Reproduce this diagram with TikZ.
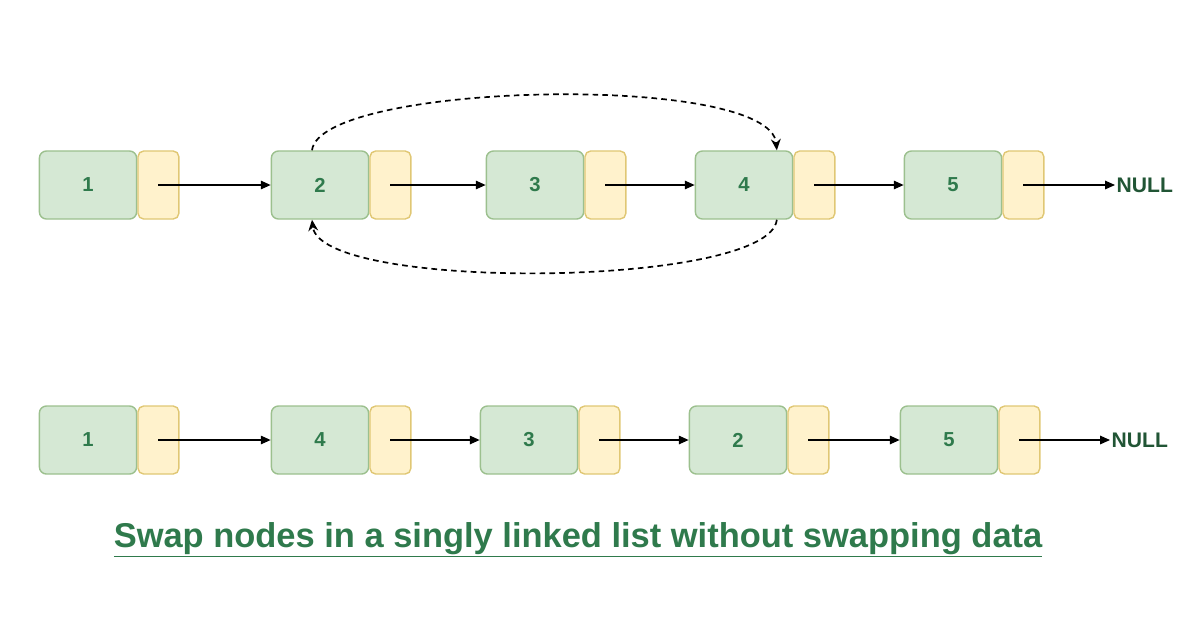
\documentclass[tikz,border=0pt]{standalone}
\usepackage{fontspec}
\setmainfont{Liberation Sans}
\usetikzlibrary{positioning,arrows.meta}
\definecolor{datafill}{HTML}{D5E8D4}
\definecolor{databorder}{HTML}{9CC08E}
\definecolor{ptrfill}{HTML}{FFF2CC}
\definecolor{ptrborder}{HTML}{E0C774}
\definecolor{txtgreen}{HTML}{2F7A4C}
\tikzset{
  data/.style={draw=databorder,fill=datafill,rounded corners=5pt,line width=1pt,
    minimum width=2.43cm,minimum height=1.7cm,inner sep=0pt,
    font=\Large\bfseries,text=txtgreen},
  ptr/.style={draw=ptrborder,fill=ptrfill,rounded corners=4pt,line width=1pt,
    minimum width=1.02cm,minimum height=1.7cm,inner sep=0pt},
  link/.style={-{Triangle[length=7pt,width=6pt]},line width=1pt},
  swap/.style={-{Stealth[length=8pt,width=7pt]},line width=1.2pt,dash pattern=on 4pt off 3pt},
  nullnode/.style={font=\fontsize{15}{18}\selectfont\bfseries,text=txtgreen!70!black,inner sep=1pt}
}
\begin{document}
\begin{tikzpicture}[x=0.025cm,y=-0.025cm]
  \useasboundingbox (0,0) rectangle (1200,627);
  % first row
  \foreach \v/\xa [count=\i] in {1/88,2/320,3/535,4/744,5/953}{
    \node[data] (t\i) at (\xa,185) {\v};
    \node[ptr,right=0pt of t\i] (tp\i) {};
  }
  \node[nullnode,anchor=west] (tnull) at (1115,185) {NULL};
  \foreach \i/\j in {1/2,2/3,3/4,4/5}
    \draw[link] (tp\i.center) -- (t\j.west);
  \draw[link] (tp5.center) -- (tnull.west);
  % swapping links
  \draw[swap] ([xshift=-0.2cm]t2.north) .. controls (320,82) and (770,72) .. ([xshift=0.82cm]t4.north);
  \draw[swap] ([xshift=0.82cm]t4.south) .. controls (770,288) and (320,292) .. ([xshift=-0.2cm]t2.south);
  % second row
  \foreach \v/\xa [count=\i] in {1/88,4/320,3/529,2/738,5/949}{
    \node[data] (b\i) at (\xa,440) {\v};
    \node[ptr,right=0pt of b\i] (bp\i) {};
  }
  \node[nullnode,anchor=west] (bnull) at (1110,440) {NULL};
  \foreach \i/\j in {1/2,2/3,3/4,4/5}
    \draw[link] (bp\i.center) -- (b\j.west);
  \draw[link] (bp5.center) -- (bnull.west);
  % caption
  \node[font=\fontsize{24.5}{29}\selectfont\bfseries,text=txtgreen] (title) at (578,540)
    {\underline{Swap nodes in a singly linked list without swapping data}};
\end{tikzpicture}
\end{document}
